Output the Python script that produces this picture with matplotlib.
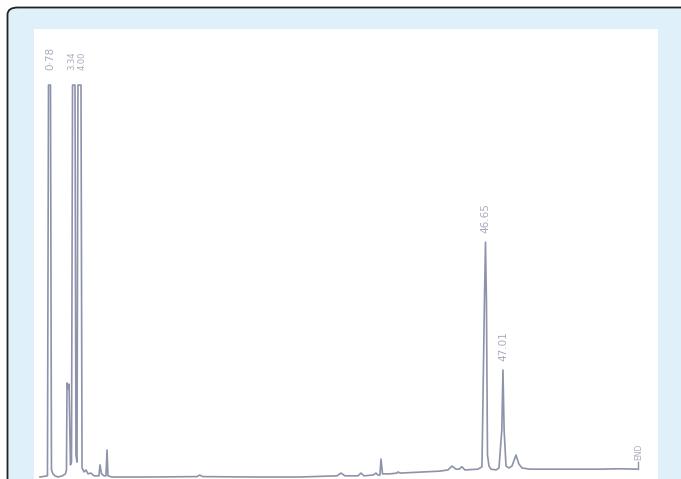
import matplotlib
matplotlib.use("Agg")
import matplotlib.pyplot as plt
from matplotlib.patches import FancyBboxPatch

# Chromatogram trace: retention time (min) vs detector response (% full scale)
time_min = [
    -0.32, 0.47, 0.58, 0.79, 0.89, 1.05, 1.26, 1.58, 2.04, 2.36,
    2.47, 2.53, 2.63, 2.74, 2.89,
    3.00, 3.11, 3.37, 3.47, 3.58, 3.68, 4.00, 4.11,
    4.32, 4.53, 4.74, 5.05, 5.37, 5.68,
    5.89, 6.00, 6.16, 6.42,
    6.63, 6.74, 6.84, 7.26,
    11.26, 16.20, 16.50, 16.80, 22.00, 27.05,
    30.95, 31.37, 31.79,
    33.16, 33.47, 33.79,
    34.74, 35.05, 35.26,
    35.47, 35.58, 35.74, 36.53, 37.26, 37.37, 37.60, 41.79,
    42.63, 43.05, 43.47, 43.79, 44.10, 44.42, 45.79, 46.21,
    46.47, 46.58, 46.68, 46.79, 46.95, 47.16,
    47.68, 48.00,
    48.30, 48.42, 48.54, 48.74, 49.05,
    49.37, 49.79, 50.10, 50.42, 51.26,
    54.42, 58.63, 60.70, 62.53,
]
response = [
    0.0, 0.3, 100.0, 100.0, 1.8, 0.8, 0.3, 0.0, 0.3, 0.8,
    1.8, 24.0, 22.5, 23.7, 3.1,
    3.8, 100.0, 100.0, 5.6, 3.8, 100.0, 100.0, 2.3,
    1.3, 1.8, 0.8, 1.0, 0.3, 0.3,
    0.3, 3.1, 0.8, 0.3,
    0.3, 6.9, 0.3, 0.0,
    0.0, 0.1, 0.5, 0.1, 0.0, 0.0,
    0.3, 1.0, 0.3,
    0.3, 1.0, 0.3,
    0.5, 1.0, 0.5,
    0.5, 4.6, 0.8, 0.8, 1.0, 1.3, 1.0, 1.5,
    1.8, 2.8, 2.0, 2.0, 2.6, 1.8, 2.0, 2.6,
    45.0, 59.9, 45.0, 5.6, 2.8, 2.0,
    1.8, 2.3,
    12.0, 27.3, 12.0, 2.8, 2.3,
    2.8, 5.6, 3.3, 2.3, 2.0,
    2.0, 2.0, 2.1, 2.0,
]

# Peak labels (retention times printed by the integrator)
label_text = ["0\u00b778", "3.34", "4.00", "46.65", "47.01"]
label_time = [0.78, 3.08, 4.08, 46.58, 48.42]
label_resp = [103.8, 103.8, 103.8, 62.2, 29.6]
label_size = [7.5, 6.0, 6.0, 7.5, 7.5]

end_time = 62.6
end_resp = [2.0, 3.8]

fig = plt.figure(figsize=(6.81, 4.79), dpi=100)
fig.patch.set_facecolor("white")

frame = FancyBboxPatch((7.5 / 681, -0.2), 1.3, 0.2 + 1 - 7.5 / 479,
                       boxstyle="round,pad=0,rounding_size=0.015",
                       transform=fig.transFigure, facecolor="#dff0fa",
                       edgecolor="#222222", linewidth=1.3, zorder=-5)
fig.patches.append(frame)

ax = fig.add_axes([34 / 681, 0, 624 / 681, 450 / 479])
ax.set_zorder(2)
ax.set_facecolor("white")
ax.plot(time_min, response, color="#8d93aa", linewidth=1.2,
        solid_joinstyle="round")
for txt, t, r, fs in zip(label_text, label_time, label_resp, label_size):
    ax.text(t, r, txt, rotation=90, ha="center", va="bottom",
            fontsize=fs, color="#a7acbc")
ax.plot([end_time, end_time], end_resp, color="#8d93aa", linewidth=1.0)
ax.text(end_time + 0.15, end_resp[1] + 0.5, "END", rotation=90,
        ha="center", va="bottom", fontsize=5.5, color="#a7acbc")

ax.set_xlim(-0.947, 64.74)
ax.set_ylim(-0.51, 114.3)
for s in ax.spines.values():
    s.set_visible(False)
ax.set_xticks([])
ax.set_yticks([])

fig.savefig("out.png", dpi=100, facecolor="white")
